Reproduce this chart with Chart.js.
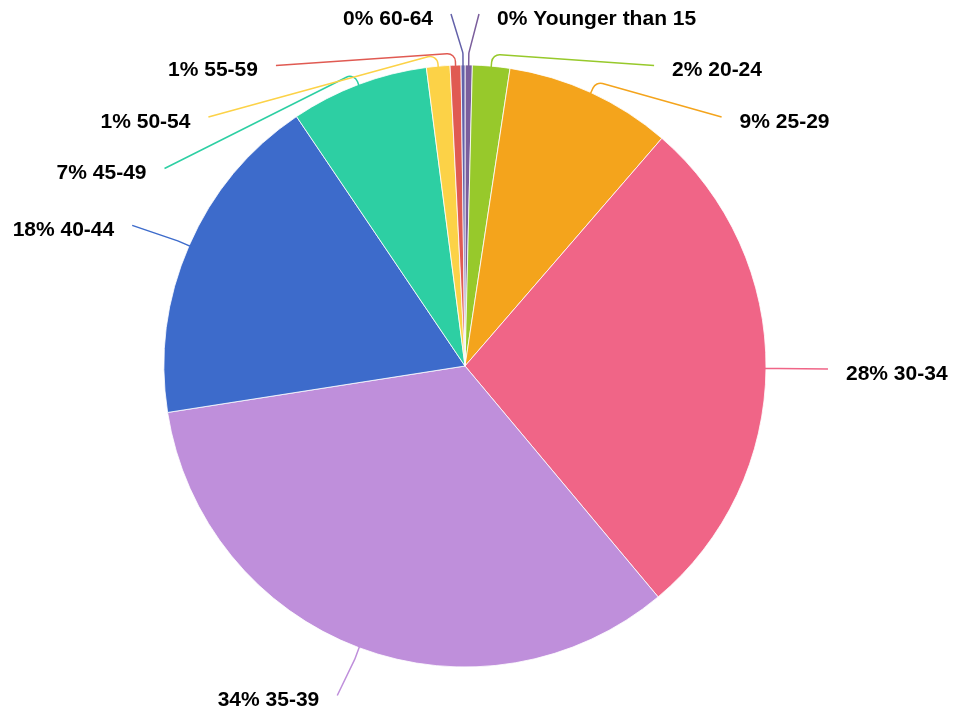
<!DOCTYPE html>
<html>
<head>
<meta charset="utf-8">
<script src="https://cdn.jsdelivr.net/npm/chart.js@4"></script>
<style>
  html, body { margin: 0; padding: 0; background: #fff; }
</style>
</head>
<body>
<canvas id="ageChart" width="953" height="715"></canvas>
<script>
const ageGroups = ["Younger than 15", "20-24", "25-29", "30-34", "35-39",
                   "40-44", "45-49", "50-54", "55-59", "60-64"];
const sharePct = [0.39, 2.0, 8.95, 27.55, 33.6, 18.0, 7.4, 1.26, 0.58, 0.21];
const sliceColors = ["#7b5e9c", "#97c92b", "#f4a41c", "#f06587", "#bf8fdb",
                     "#3d6bcb", "#2dcfa3", "#fcd247", "#e05a52", "#6361a9"];

// outside labels sitting on an ellipse around the pie, stacked so they don't collide
const outsideLabels = {
  id: "outsideLabels",
  afterDatasetsDraw(chart, args, opts) {
    const ctx = chart.ctx;
    const meta = chart.getDatasetMeta(0);
    const data = chart.data.datasets[0].data;
    const total = data.reduce((a, b) => a + b, 0);
    const items = meta.data.map((arc, i) => {
      const mid = (arc.startAngle + arc.endAngle) / 2;
      return {
        i, arc, mid,
        right: Math.cos(mid) >= -1e-9,
        natY: arc.y + opts.ry * Math.sin(mid)
      };
    });

    ["left", "right"].forEach(side => {
      const group = items.filter(it => (side === "right") === it.right)
        .sort((a, b) => a.natY - b.natY);
      let prev = -Infinity;
      group.forEach(it => {
        const top = it.arc.y - opts.ry;
        let y = Math.max(it.natY, top, prev + opts.gap);
        it.y = y;
        prev = y;
      });
    });

    ctx.save();
    ctx.font = opts.font;
    ctx.textBaseline = "middle";
    items.forEach(it => {
      const { arc, mid } = it;
      const cx = arc.x, cy = arc.y, r = arc.outerRadius;
      const dy = (it.y - cy) / opts.ry;
      const dx = Math.max(opts.minDx, opts.rx * Math.sqrt(Math.max(0, 1 - dy * dy)));
      const ex = it.right ? cx + dx : cx - dx;
      const ey = it.y;
      const x0 = cx + (r - 1) * Math.cos(mid), y0 = cy + (r - 1) * Math.sin(mid);
      const x1 = cx + (r + 12) * Math.cos(mid), y1 = cy + (r + 12) * Math.sin(mid);

      ctx.strokeStyle = sliceColors[it.i];
      ctx.lineWidth = 1.5;
      ctx.beginPath();
      ctx.moveTo(x0, y0);
      ctx.arcTo(x1, y1, ex, ey, 8);
      ctx.lineTo(ex, ey);
      ctx.stroke();

      const pct = Math.round(data[it.i] / total * 100);
      ctx.fillStyle = "#000";
      ctx.textAlign = it.right ? "left" : "right";
      ctx.fillText(pct + "% " + chart.data.labels[it.i],
                   it.right ? ex + 18 : ex - 18, ey + 5);
    });
    ctx.restore();
  }
};

const ctx = document.getElementById("ageChart").getContext("2d");
new Chart(ctx, {
  type: "pie",
  data: {
    labels: ageGroups,
    datasets: [{
      data: sharePct,
      backgroundColor: sliceColors,
      borderColor: "rgba(255,255,255,0.8)",
      borderWidth: 1,
      radius: 301
    }]
  },
  options: {
    responsive: false,
    animation: false,
    events: [],
    layout: { padding: { left: 164, right: 187, top: 65, bottom: 48 } },
    plugins: {
      legend: { display: false },
      tooltip: { enabled: false },
      outsideLabels: {
        rx: 363, ry: 352, gap: 51.5, minDx: 14,
        font: "bold 21px 'Liberation Sans', Arial, sans-serif"
      }
    }
  },
  plugins: [outsideLabels]
});
</script>
</body>
</html>
